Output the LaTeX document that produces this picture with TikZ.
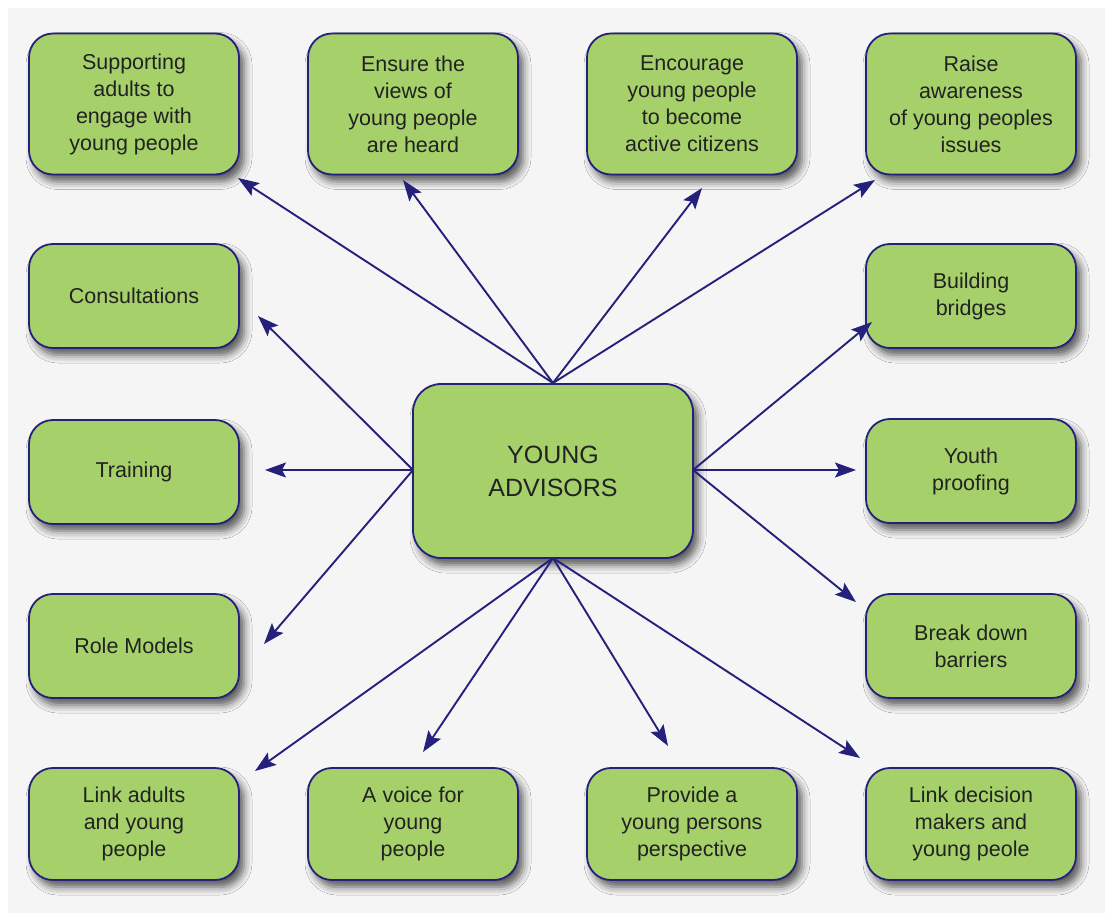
\documentclass[tikz,border=0pt]{standalone}
\usepackage{fontspec}
\setmainfont{Liberation Sans}
\usetikzlibrary{arrows.meta,shadows.blur}
\definecolor{bg}{HTML}{F5F5F6}
\definecolor{boxgreen}{HTML}{A6D16A}
\definecolor{navy}{HTML}{25217A}
\definecolor{txt}{HTML}{222222}
\tikzset{
  card/.style={draw=navy, line width=1.8pt, fill=boxgreen, rounded corners=24pt,
    minimum width=210pt, minimum height=104pt, align=center, text=txt,
    font=\fontsize{21.5pt}{27pt}\selectfont, inner sep=0pt,
    blur shadow={shadow xshift=5pt, shadow yshift=-7pt, shadow blur radius=8pt, shadow opacity=65}},
  tall/.style={minimum height=141pt},
  mid/.style={minimum height=112pt},
  hub/.style={card, minimum width=280pt, minimum height=174pt, rounded corners=28pt,
    font=\fontsize{25pt}{33pt}\selectfont},
  link/.style={draw=navy, line width=1.9pt, -{Stealth[length=21pt,width=15pt,inset=4pt]}}
}
\begin{document}
\begin{tikzpicture}[x=1pt,y=-1pt]
\useasboundingbox (0,0) rectangle (1105,913);
\fill[white] (0,0) rectangle (1105,913);
\fill[bg] (8,8) rectangle (1105,913);

% nodes
\node[hub] (c) at (553,471) {YOUNG\\ADVISORS};

\node[card,tall] (t1) at (134,104) {Supporting\\adults to\\engage with\\young people};
\node[card,tall] (t2) at (413,104) {Ensure the\\views of\\young people\\are heard};
\node[card,tall] (t3) at (692,104) {Encourage\\young people\\to become\\active citizens};
\node[card,tall] (t4) at (971,104) {Raise\\awareness\\of young peoples\\issues};

\node[card] (l2) at (134,296) {Consultations};
\node[card] (l3) at (134,472) {Training};
\node[card] (l4) at (134,646) {Role Models};

\node[card] (r2) at (971,296) {Building\\bridges};
\node[card] (r3) at (971,471) {Youth\\proofing};
\node[card] (r4) at (971,646) {Break down\\barriers};

\node[card,mid] (b1) at (134,824) {Link adults\\and young\\people};
\node[card,mid] (b2) at (413,824) {A voice for\\young\\people};
\node[card,mid] (b3) at (692,824) {Provide a\\young persons\\perspective};
\node[card,mid] (b4) at (971,824) {Link decision\\makers and\\young peole};

% connector end points
\coordinate (top) at (553,383);
\coordinate (lft) at (413,470);
\coordinate (rgt) at (693,470);
\coordinate (bot) at (553,558);

\coordinate (e-t1) at (238,178);
\coordinate (e-t2) at (403,180);
\coordinate (e-t3) at (702,188);
\coordinate (e-t4) at (875,180);
\coordinate (e-l2) at (258,316);
\coordinate (e-l3) at (265,470);
\coordinate (e-l4) at (264,644);
\coordinate (e-r2) at (872,322);
\coordinate (e-r3) at (856,470);
\coordinate (e-r4) at (856,602);
\coordinate (e-b1) at (255,771);
\coordinate (e-b2) at (423,752);
\coordinate (e-b3) at (668,746);
\coordinate (e-b4) at (860,758);

\foreach \e in {t1,t2,t3,t4} \draw[link] (top) -- (e-\e);
\foreach \e in {l2,l3,l4} \draw[link] (lft) -- (e-\e);
\foreach \e in {r2,r3,r4} \draw[link] (rgt) -- (e-\e);
\foreach \e in {b1,b2,b3,b4} \draw[link] (bot) -- (e-\e);
\end{tikzpicture}
\end{document}
